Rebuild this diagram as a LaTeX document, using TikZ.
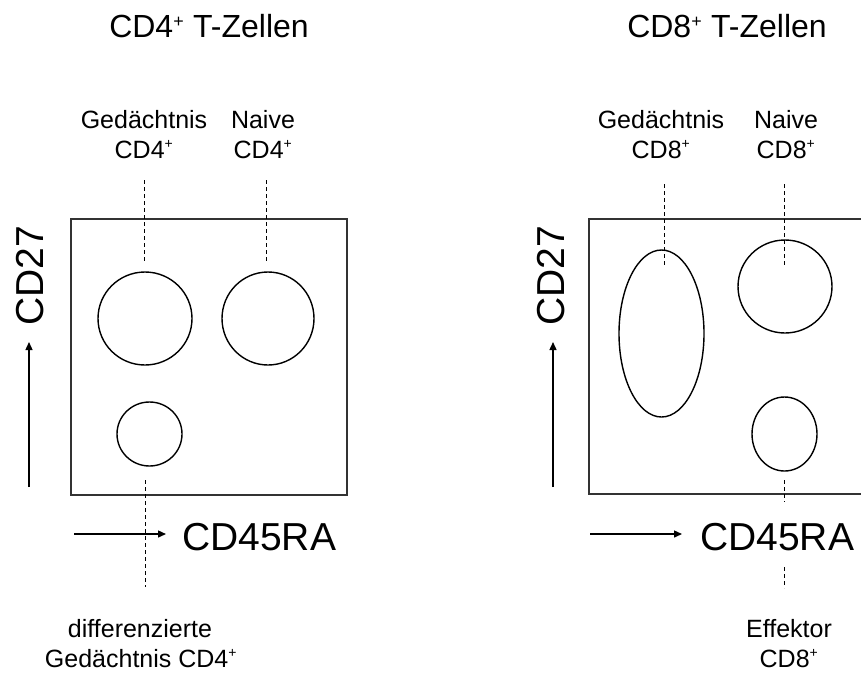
\documentclass[tikz,border=0pt]{standalone}
\usepackage{fontspec}
\usepackage{graphicx}
\setmainfont{Liberation Sans}
\usetikzlibrary{shapes.geometric,arrows.meta}
% small raised plus sign used in the cell names
\newcommand{\cellplus}{\textsuperscript{\scalebox{0.8}{+}}}
\begin{document}
\begin{tikzpicture}[x=1pt,y=-1pt,
  panel/.style={draw=black!80,line width=2pt},
  gate/.style={draw,line width=1.4pt,ellipse,inner sep=0pt},
  guide/.style={line width=0.9pt,dash pattern=on 4pt off 3pt},
  axisarrow/.style={line width=1.4pt,-{Triangle[length=8pt,width=7pt]}},
  title/.style={font=\fontsize{32}{38}\selectfont,inner sep=0pt,anchor=base},
  lbl/.style={font=\fontsize{25}{30}\selectfont,inner sep=0pt,anchor=base},
  axis/.style={font=\fontsize{39}{46}\selectfont,inner sep=0pt},
]
\useasboundingbox (0,0) rectangle (861,675);
\clip (0,0) rectangle (861,675);

% ---------------- CD4 panel ----------------
\node[title] (t4) at (209,37) {CD4\cellplus{} T-Zellen};
\node[lbl] (g4a) at (144,128) {Gedächtnis};
\node[lbl] (g4b) at (144,158) {CD4\cellplus};
\node[lbl] (n4a) at (263,128) {Naive};
\node[lbl] (n4b) at (263,158) {CD4\cellplus};

\draw[panel] (71,219) rectangle (347,495);

\node[gate,minimum width=94pt,minimum height=93pt] (gm4) at (145,318.5) {};
\node[gate,minimum width=92pt,minimum height=93pt] (nv4) at (268,318.5) {};
\node[gate,minimum width=65pt,minimum height=64pt] (dg4) at (149.5,434) {};

\coordinate (g4s) at (144,180);  \coordinate (g4e) at (144,263);
\coordinate (n4s) at (266,180);  \coordinate (n4e) at (266,263);
\coordinate (d4s) at (145,480);  \coordinate (d4e) at (145,587);
\draw[guide] (g4s) -- (g4e);
\draw[guide] (n4s) -- (n4e);
\draw[guide] (d4s) -- (d4e);

\coordinate (y4a) at (29,487); \coordinate (y4b) at (29,342);
\draw[axisarrow] (y4a) -- (y4b);
\node[axis,rotate=90] (cd27l) at (30,275.5) {CD27};

\coordinate (x4a) at (74,534); \coordinate (x4b) at (166,534);
\draw[axisarrow] (x4a) -- (x4b);
\node[axis,anchor=base west] (cd45l) at (182,550) {CD45RA};

\node[lbl] (d4a) at (140,637) {differenzierte};
\node[lbl] (d4b) at (141,667) {Gedächtnis CD4\cellplus};

% ---------------- CD8 panel ----------------
\node[title] (t8) at (727,37) {CD8\cellplus{} T-Zellen};
\node[lbl] (g8a) at (661,128) {Gedächtnis};
\node[lbl] (g8b) at (661,158) {CD8\cellplus};
\node[lbl] (n8a) at (786,128) {Naive};
\node[lbl] (n8b) at (786,158) {CD8\cellplus};

\draw[panel] (589,219) rectangle (865,494);

\node[gate,minimum width=85pt,minimum height=167pt] (gm8) at (661.5,333.5) {};
\node[gate,minimum width=94pt,minimum height=93pt] (nv8) at (785,286.5) {};
\node[gate,minimum width=65pt,minimum height=74pt] (ef8) at (784.5,434) {};

\coordinate (g8s) at (664,184);  \coordinate (g8e) at (664,266);
\coordinate (n8s) at (784,184);  \coordinate (n8e) at (784,266);
\coordinate (e8s) at (784,480);  \coordinate (e8m) at (784,502);
\coordinate (e8n) at (784,567);  \coordinate (e8e) at (784,588);
\draw[guide] (g8s) -- (g8e);
\draw[guide] (n8s) -- (n8e);
\draw[guide] (e8s) -- (e8m);
\draw[guide] (e8n) -- (e8e);

\coordinate (y8a) at (553,487); \coordinate (y8b) at (553,342);
\draw[axisarrow] (y8a) -- (y8b);
\node[axis,rotate=90] (cd27r) at (551.5,275.5) {CD27};

\coordinate (x8a) at (590,534); \coordinate (x8b) at (682,534);
\draw[axisarrow] (x8a) -- (x8b);
\node[axis,anchor=base west] (cd45r) at (700,550) {CD45RA};

\node[lbl] (e8a) at (789,637) {Effektor};
\node[lbl] (e8b) at (789,667) {CD8\cellplus};
\end{tikzpicture}
\end{document}
